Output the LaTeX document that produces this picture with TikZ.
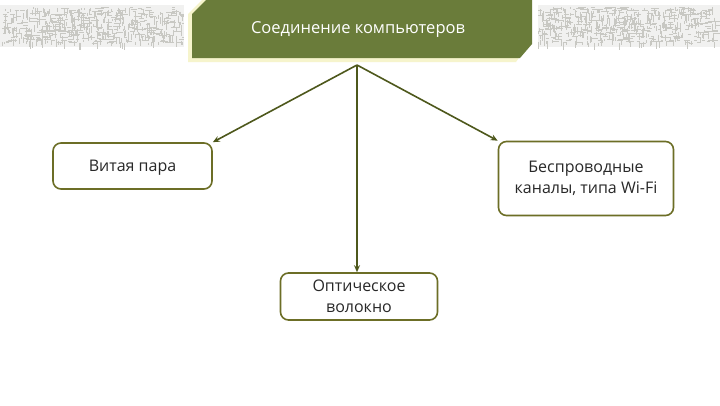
\documentclass[tikz,border=0pt]{standalone}
\usepackage{fontspec}
\setmainfont{Open Sans}
\usetikzlibrary{arrows.meta}
\definecolor{titlegreen}{RGB}{106,124,58}
\definecolor{shadowyel}{RGB}{246,244,204}
\definecolor{boxborder}{RGB}{108,110,38}
\definecolor{arrowcol}{RGB}{78,88,28}
\definecolor{texcol}{RGB}{200,200,195}
\definecolor{textdark}{RGB}{40,40,40}
\tikzset{
  itembox/.style={draw=boxborder, line width=1.6pt, rounded corners=8pt, fill=white, text=textdark, font=\fontsize{16}{21}\selectfont, align=center, inner sep=0pt},
  conn/.style={draw=arrowcol, line width=1.6pt, -{Stealth[length=7pt,width=6pt]}}
}
\begin{document}
\begin{tikzpicture}[x=1pt,y=-1pt]
\useasboundingbox (0,0) rectangle (720,405);
\fill[white] (0,0) rectangle (720,405);
% texture bands
\fill[texcol!25] (0,5) rectangle (187,47);
\fill[texcol!25] (534,5) rectangle (720,47);
\pgfmathsetseed{7}
\foreach \i in {1,...,650}{
  \pgfmathsetmacro{\xx}{rnd*181+2}
  \pgfmathsetmacro{\yy}{rnd*36+7}
  \pgfmathsetmacro{\ll}{rnd*6+2}
  \pgfmathsetmacro{\dd}{rnd}
  \ifdim\dd pt<0.55pt
    \draw[texcol, line width=0.5pt] (\xx,\yy) -- ++(0,\ll);
  \else
    \draw[texcol, line width=0.5pt] (\xx,\yy) -- ++(\ll,0);
  \fi
}
\foreach \i in {1,...,650}{
  \pgfmathsetmacro{\xx}{rnd*180+536}
  \pgfmathsetmacro{\yy}{rnd*36+7}
  \pgfmathsetmacro{\ll}{rnd*6+2}
  \pgfmathsetmacro{\dd}{rnd}
  \ifdim\dd pt<0.55pt
    \draw[texcol, line width=0.5pt] (\xx,\yy) -- ++(0,\ll);
  \else
    \draw[texcol, line width=0.5pt] (\xx,\yy) -- ++(\ll,0);
  \fi
}
% title shadow and box
\fill[white] (184,0) rectangle (538,66);
\fill[shadowyel] (188,14) -- (202,0) -- (528,0) -- (528,45) -- (516,62) -- (188,62) -- cycle;
\fill[titlegreen] (192,14) -- (206,0) -- (532,0) -- (532,44) -- (520,58) -- (192,58) -- cycle;
\node[text=white, font=\fontsize{16.5}{20}\selectfont] (title) at (358,30) {Соединение компьютеров};
\coordinate (src) at (357,65);
% boxes
\node[itembox, minimum width=159pt, minimum height=46pt] (b1) at (132.5,166) {};
\node[text=textdark, font=\fontsize{16}{21}\selectfont] (t1) at (132.5,168) {Витая пара};
\node[itembox, minimum width=175pt, minimum height=74pt] (b2) at (586,178.5) {Беспроводные\\каналы, типа Wi-Fi};
\node[itembox, minimum width=157pt, minimum height=47pt] (b3) at (359,296.5) {Оптическое\\волокно};
% connectors
\draw[conn] (src) -- (b1.north east);
\draw[conn] (src) -- (b2.north west);
\draw[conn] (src) -- (src |- b3.north);
\end{tikzpicture}
\end{document}
